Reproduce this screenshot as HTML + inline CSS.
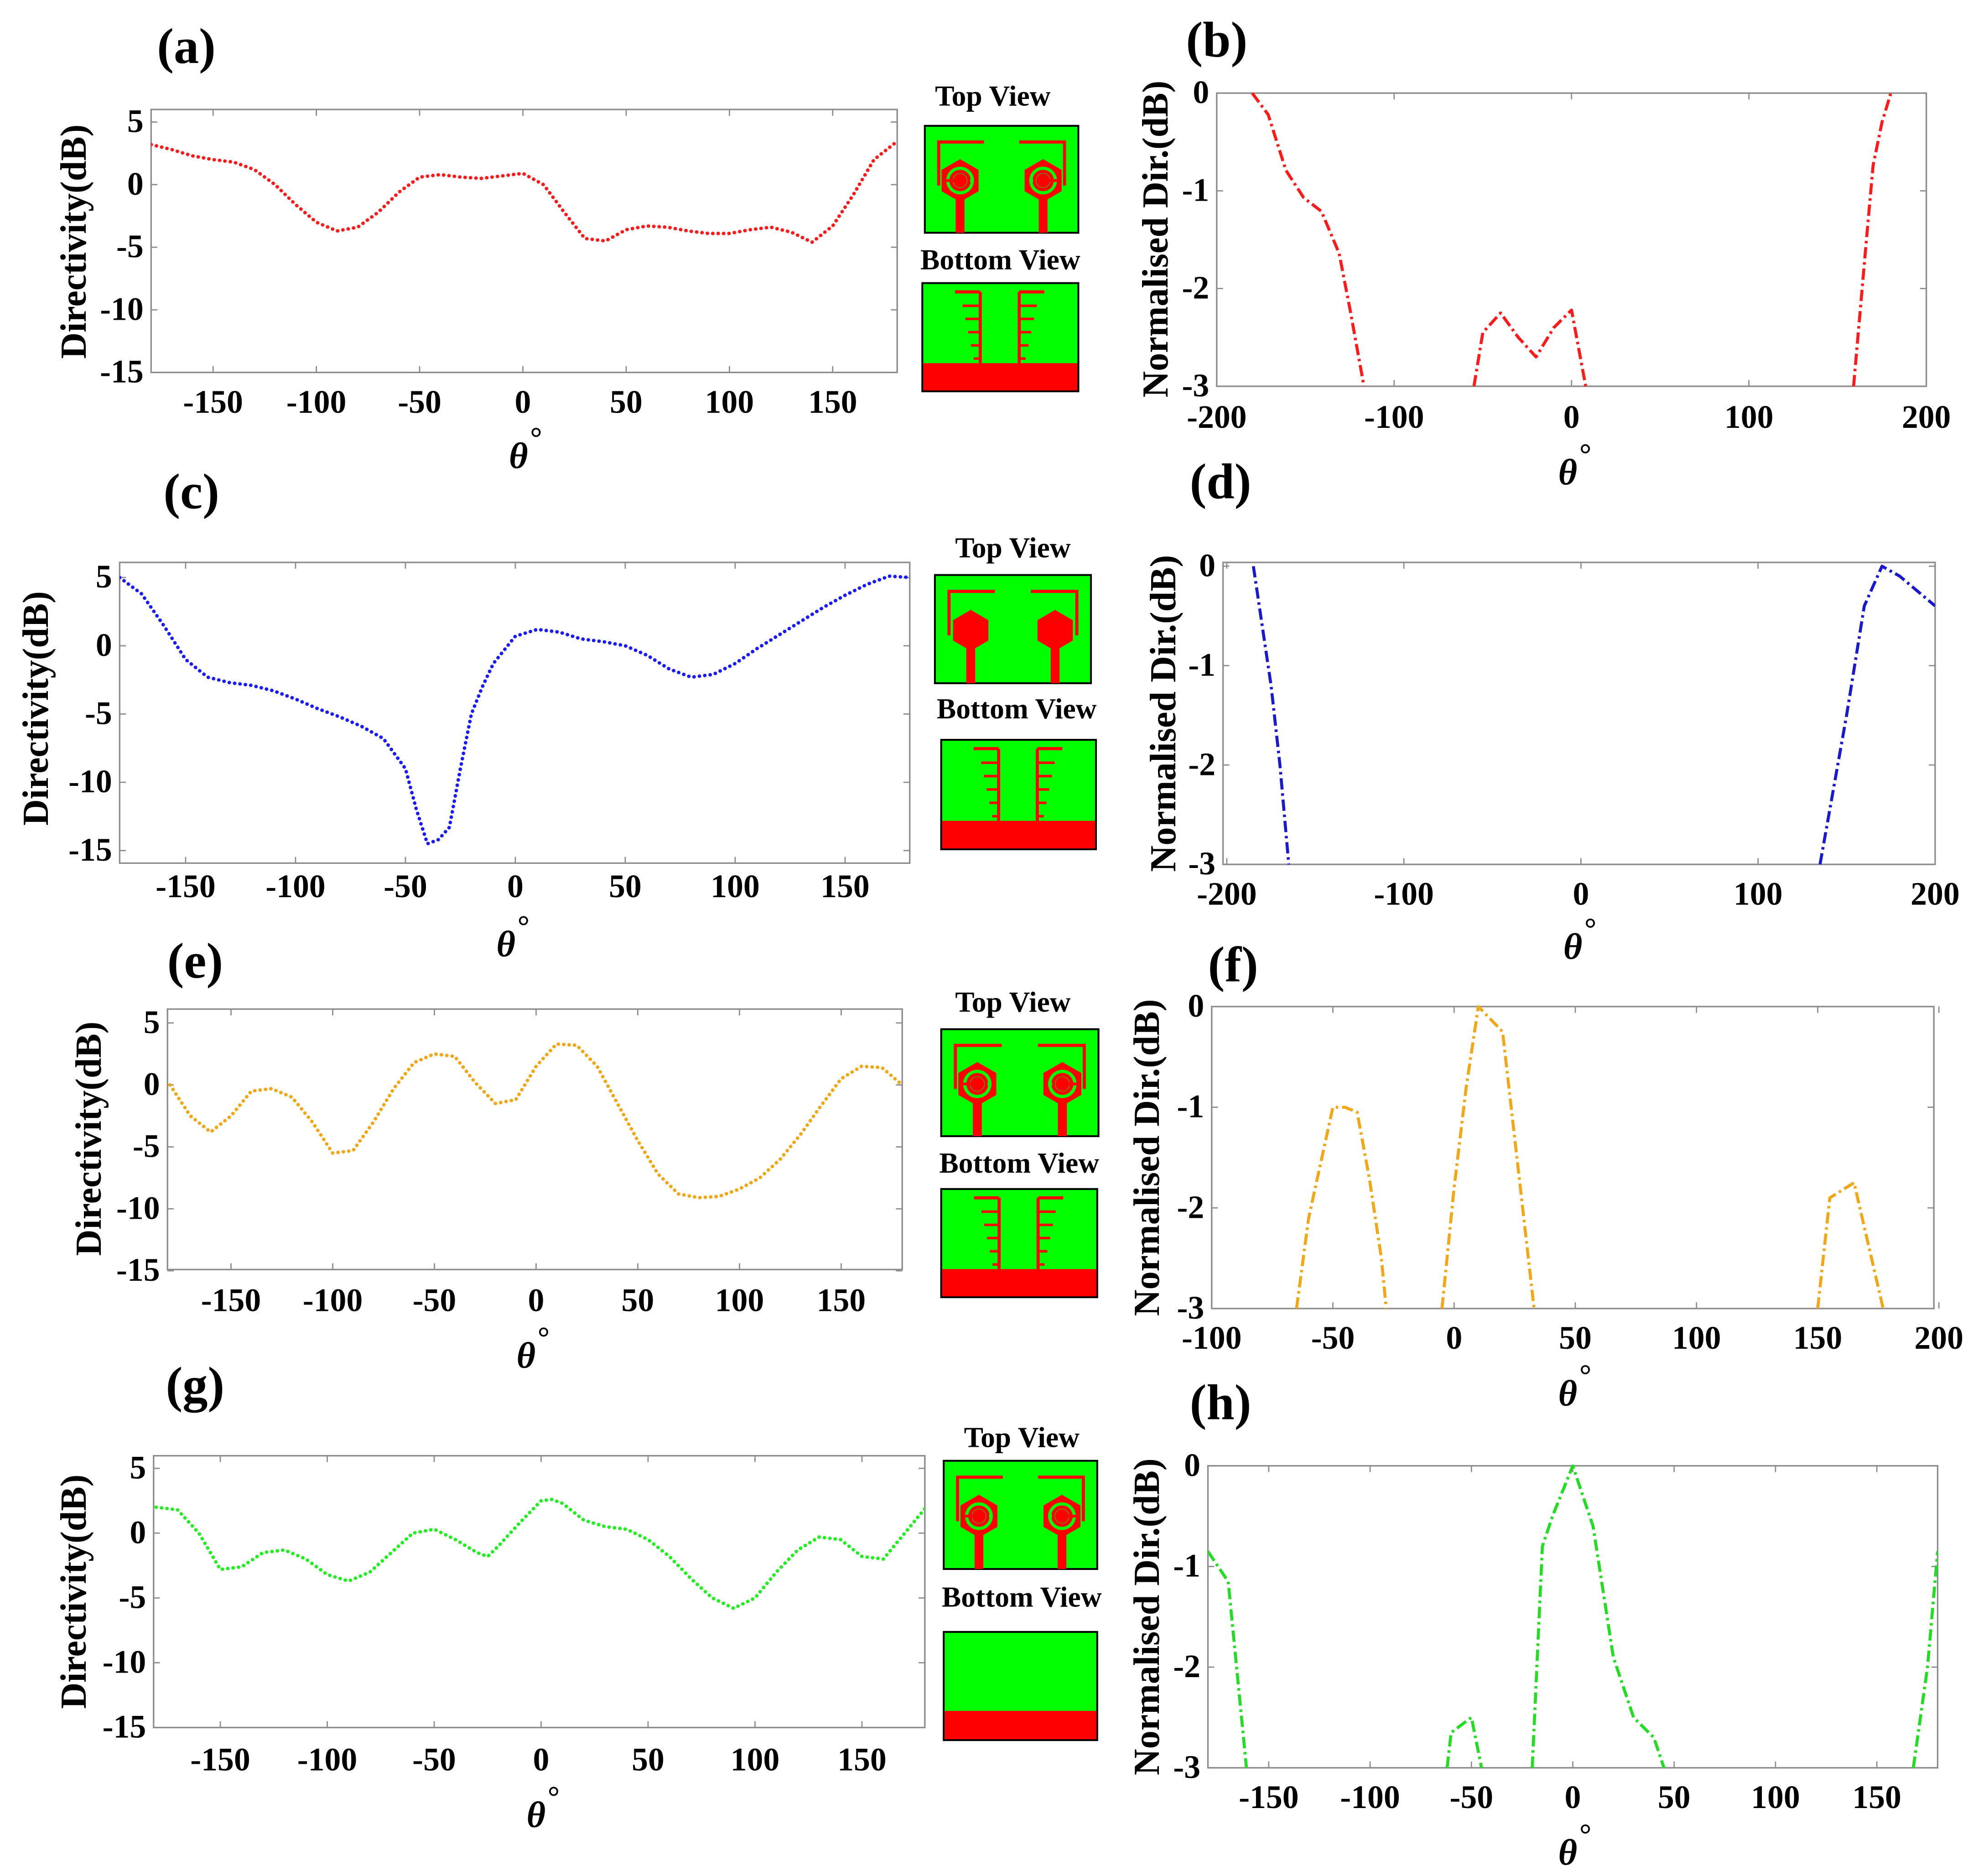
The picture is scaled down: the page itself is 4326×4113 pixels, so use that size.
<!DOCTYPE html>
<html><head><meta charset="utf-8">
<style>
html,body{margin:0;padding:0;background:#fff;}
svg{display:block;}
text{font-family:"Liberation Serif","Times New Roman",serif;font-weight:bold;fill:#000;}
</style></head>
<body>
<svg id="fig" xmlns="http://www.w3.org/2000/svg" width="4326" height="4113" viewBox="0 0 1568 1491" font-family="Liberation Serif, serif">
<defs id="defs"></defs>
</svg>
<script>
// ---- data ----
const thA = [-180,-170,-160,-150,-140,-130,-120,-110,-100,-90,-80,-70,-60,-50,-40,-30,-20,-10,0,10,20,30,40,50,60,70,80,90,100,110,120,130,140,150,160,170,180];
const dirA = [3.2,2.8,2.3,2,1.8,1.2,0,-1.6,-3,-3.7,-3.4,-2.2,-0.6,0.6,0.8,0.6,0.5,0.7,0.9,0,-2.2,-4.3,-4.5,-3.6,-3.3,-3.4,-3.7,-3.9,-3.9,-3.6,-3.4,-3.8,-4.6,-3.3,-0.8,2,3.3];
const thB = [-180,-171,-161,-151,-141,-131,-125,-117,null,-55,-50,-40,-30,-20,-10,0,8,null,159,166,170,175,180];
const normB = [0,-0.22,-0.79,-1.07,-1.21,-1.64,-2.2,-3,null,-3,-2.45,-2.25,-2.5,-2.7,-2.4,-2.22,-3,null,-3,-1.55,-0.74,-0.3,0];
const thC = [-180,-170,-160,-150,-140,-130,-120,-110,-100,-90,-80,-70,-60,-50,-45,-40,-35,-30,-25,-20,-15,-10,0,10,20,30,40,50,60,70,80,90,100,110,120,130,140,150,160,170,180];
const dirC = [5,3.8,1.5,-1,-2.3,-2.7,-2.9,-3.3,-3.9,-4.6,-5.2,-5.9,-6.8,-9,-12,-14.5,-14.2,-13.3,-9,-5,-3,-1.3,0.7,1.2,1,0.5,0.3,0,-0.7,-1.7,-2.3,-2.1,-1.3,-0.2,0.8,1.8,2.8,3.7,4.5,5.1,5];
const thD = [-185,-180,-175,-170,-165,null,135,140,150,160,170,180,190,200];
const normD = [0,-0.6,-1.2,-2,-3,null,-3,-2.5,-1.5,-0.4,0,-0.1,-0.25,-0.4];
const thE = [-180,-170,-160,-150,-140,-130,-120,-110,-100,-90,-80,-70,-60,-50,-40,-30,-20,-10,0,10,20,30,40,50,60,70,80,90,100,110,120,130,140,150,160,170,180];
const dirE = [0,-2.5,-3.8,-2.5,-0.5,-0.3,-1,-3,-5.5,-5.3,-3,-0.3,1.8,2.5,2.3,0.2,-1.5,-1.2,1.5,3.3,3.2,1.5,-1.5,-4.5,-7.2,-8.8,-9.1,-9,-8.4,-7.5,-6,-4,-1.7,0.5,1.5,1.4,0];
const thF = [-65,-60,-50,-45,-40,-35,-30,-28,null,-5,0,5,10,20,33,null,150,155,165,177];
const normF = [-3,-2.1,-1,-1,-1.05,-1.7,-2.5,-3,null,-3,-1.8,-0.8,0,-0.25,-3,null,-3,-1.9,-1.75,-3];
const thG = [-180,-170,-160,-150,-140,-130,-120,-110,-100,-90,-80,-70,-60,-50,-40,-30,-25,-20,-10,0,5,10,20,30,40,50,60,70,80,90,100,110,120,130,140,150,160,170,180];
const dirG = [2,1.8,0,-2.8,-2.6,-1.5,-1.3,-2,-3.2,-3.7,-3,-1.5,0,0.3,-0.5,-1.5,-1.8,-1,0.8,2.5,2.6,2.3,1,0.5,0.3,-0.5,-1.8,-3.5,-5,-5.8,-5,-3,-1.3,-0.3,-0.5,-1.8,-2,0,2];
const thH = [-180,-170,-161,null,-62,-60,-50,-45,null,-20,-15,-10,0,10,20,30,40,45,null,168,175,180];
const normH = [-0.85,-1.15,-3,null,-3,-2.65,-2.5,-3,null,-3,-0.8,-0.5,0,-0.6,-1.9,-2.5,-2.7,-3,null,-3,-2,-0.85];
const xTicks360 = [-150,-100,-50,0,50,100,150];
const yTicksDir = [5,0,-5,-10,-15];
const yTicksNorm = [0,-1,-2,-3];
const xTicksB = [-200,-100,0,100,200];
const xTicksF = [-100,-50,0,50,100,150,200];
const xTicksH = [-150,-100,-50,0,50,100,150];

const NS = "http://www.w3.org/2000/svg";
const fig = document.getElementById('fig');
const defs = document.getElementById('defs');
function mk(tag, attrs, parent){const e=document.createElementNS(NS,tag);for(const k in attrs)e.setAttribute(k,attrs[k]);(parent||fig).appendChild(e);return e;}
function txt(s,x,y,size,anchor,parent,extra){const t=mk('text',Object.assign({x:x,y:y,'font-size':size,'text-anchor':anchor||'middle','font-family':'Liberation Serif, Times New Roman, serif','font-weight':'bold'},extra||{}),parent);t.textContent=s;return t;}

let clipId=0;
function panel(o){
  const g=mk('g',{});
  
  
  const sx=v=>o.px0+(v-o.xmin)/(o.xmax-o.xmin)*(o.px1-o.px0);
  const sy=v=>o.py0+(o.ymax-v)/(o.ymax-o.ymin)*(o.py1-o.py0);
  const bx=o.bx0, bxr=o.bx1, by=o.by0, byb=o.by1;
  const box=mk('rect',{x:bx,y:by,width:bxr-bx,height:byb-by,fill:'#fff',stroke:'#8c8c8c','stroke-width':1.2},g);
  
  
  o.xt.forEach(v=>{const x=sx(v);
    mk('line',{x1:x,y1:byb,x2:x,y2:byb-5,stroke:'#8c8c8c','stroke-width':1},g);
    mk('line',{x1:x,y1:by,x2:x,y2:by+5,stroke:'#8c8c8c','stroke-width':1},g);
    const t=txt(String(v),x,o.xly,26,'middle',g);
    
    
  });
  o.yt.forEach(v=>{const y=sy(v);
    mk('line',{x1:bx,y1:y,x2:bx+5,y2:y,stroke:'#8c8c8c','stroke-width':1},g);
    mk('line',{x1:bxr,y1:y,x2:bxr-5,y2:y,stroke:'#8c8c8c','stroke-width':1},g);
    const t=txt(String(v),o.ylx,y+8,26,'end',g);
    
    
  });
  clipId++;
  const cp=mk('clipPath',{id:'c'+clipId},defs);
  mk('rect',{x:bx,y:by-1,width:bxr-bx,height:byb-by+2},cp);
  let d='',pen=false;
  for(let i=0;i<o.xs.length;i++){
    if(o.xs[i]===null){pen=false;continue;}
    d+=(pen?'L':'M')+sx(o.xs[i]).toFixed(2)+' '+sy(o.ys[i]).toFixed(2)+' ';pen=true;
  }
  const p=mk('path',{d:d,fill:'none',stroke:o.color,'stroke-width':o.dot?2.8:2.4,'stroke-dasharray':o.dot?'0.1 4.2':'9 3 2 3','stroke-linecap':o.dot?'round':'butt','stroke-linejoin':'round','clip-path':'url(#c'+clipId+')'},g);
  
  
  const yt=txt(o.ytitle,0,0,29,'middle',g,{transform:'translate('+o.ytx+','+o.yty+') rotate(-90)'});
  
  
  const th=txt('θ',o.thx,o.thy,29,'middle',g,{'font-style':'italic','font-weight':'normal'});
  
  
  const deg=txt('°',o.thx+14,o.thy-16,24,'middle',g,{'font-weight':'normal'});
  
  
  const pl=txt(o.label,o.lx,o.ly,40,'middle',g);
  
  
}

panel({name:'panel-a',xmin:-180,xmax:180,px0:120,px1:711,ymin:-15,ymax:5,py0:97,py1:296,bx0:120,bx1:713,by0:87,by1:296,xt:xTicks360,yt:yTicksDir,xly:328,ylx:114,xs:thA,ys:dirA,color:'#ff1a1a',dot:true,ytitle:'Directivity(dB)',ytx:68,yty:192,thx:412,thy:372,label:'(a)',lx:148,ly:50});
panel({name:'panel-c',xmin:-180,xmax:180,px0:95,px1:724,ymin:-15,ymax:5,py0:459,py1:676,bx0:95,bx1:723,by0:447,by1:686,xt:xTicks360,yt:yTicksDir,xly:713,ylx:89,xs:thC,ys:dirC,color:'#1a1aff',dot:true,ytitle:'Directivity(dB)',ytx:38,yty:563,thx:402,thy:760,label:'(c)',lx:152,ly:404});
panel({name:'panel-e',xmin:-180,xmax:180,px0:135,px1:717,ymin:-15,ymax:5,py0:813,py1:1010,bx0:133,bx1:717,by0:802,by1:1009,xt:xTicks360,yt:yTicksDir,xly:1042,ylx:127,xs:thE,ys:dirE,color:'#f0a818',dot:true,ytitle:'Directivity(dB)',ytx:80,yty:905,thx:418,thy:1087,label:'(e)',lx:155,ly:777});
panel({name:'panel-g',xmin:-180,xmax:180,px0:124,px1:736,ymin:-15,ymax:5,py0:1167,py1:1373,bx0:122,bx1:735,by0:1157,by1:1373,xt:xTicks360,yt:yTicksDir,xly:1407,ylx:116,xs:thG,ys:dirG,color:'#22ee22',dot:true,ytitle:'Directivity(dB)',ytx:68,yty:1265,thx:426,thy:1452,label:'(g)',lx:155,ly:1114});
panel({name:'panel-b',xmin:-200,xmax:200,px0:967,px1:1531,ymin:-3,ymax:0,py0:74,py1:307,bx0:967,bx1:1531,by0:74,by1:307,xt:xTicksB,yt:yTicksNorm,xly:340,ylx:961,xs:thB,ys:normB,color:'#ff1a1a',dot:false,ytitle:'Normalised Dir.(dB)',ytx:928,yty:190,thx:1246,thy:385,label:'(b)',lx:967,ly:45});
panel({name:'panel-d',xmin:-200,xmax:200,px0:975,px1:1538,ymin:-3,ymax:0,py0:450,py1:687,bx0:972,bx1:1538,by0:447,by1:687,xt:xTicksB,yt:yTicksNorm,xly:719,ylx:966,xs:thD,ys:normD,color:'#1a1acc',dot:false,ytitle:'Normalised Dir.(dB)',ytx:934,yty:567,thx:1250,thy:762,label:'(d)',lx:970,ly:396});
panel({name:'panel-f',xmin:-100,xmax:200,px0:963,px1:1541,ymin:-3,ymax:0,py0:800,py1:1040,bx0:963,bx1:1537,by0:800,by1:1040,xt:xTicksF,yt:yTicksNorm,xly:1072,ylx:957,xs:thF,ys:normF,color:'#f0a818',dot:false,ytitle:'Normalised Dir.(dB)',ytx:921,yty:920,thx:1246,thy:1117,label:'(f)',lx:980,ly:780});
panel({name:'panel-h',xmin:-180,xmax:180,px0:960,px1:1540,ymin:-3,ymax:0,py0:1165,py1:1405,bx0:960,bx1:1540,by0:1165,by1:1405,xt:xTicksH,yt:yTicksNorm,xly:1437,ylx:954,xs:thH,ys:normH,color:'#22dd22',dot:false,ytitle:'Normalised Dir.(dB)',ytx:921,yty:1285,thx:1246,thy:1482,label:'(h)',lx:970,ly:1128});

// ---- insets ----
const RED='#ff0000', GRN='#00ff00';
function hexPts(cx,cy,r){let s='';for(let i=0;i<6;i++){const a=Math.PI/180*(60*i-90);s+=(cx+r*Math.cos(a)).toFixed(1)+','+(cy+r*Math.sin(a)).toFixed(1)+' ';}return s;}
function topView(x,y,w,h,solid,tx,ty){
  const g=mk('g',{});
  
  
  const t=txt('Top View',tx,ty,23,'middle',g);
  
  
  mk('rect',{x:x,y:y,width:w,height:h,fill:GRN,stroke:'#000','stroke-width':1.5},g);
  const sc=w/122;
  [[28,1],[94,-1]].forEach(([cxr,dir])=>{
    const cx=x+cxr*sc, cy=y+44*h/86;
    const bxo=dir>0?x+11*sc:x+111*sc, bxi=dir>0?x+47*sc:x+75*sc;
    mk('polyline',{points:bxo+','+(y+48*h/86)+' '+bxo+','+(y+13*h/86)+' '+bxi+','+(y+13*h/86),fill:'none',stroke:RED,'stroke-width':2.5},g);
    mk('rect',{x:cx-3.5*sc,y:y+56*h/86,width:7*sc,height:h-56*h/86,fill:RED},g);
    if(solid){mk('polygon',{points:hexPts(cx,cy,16*sc),fill:RED},g);}
    else{
      mk('polygon',{points:hexPts(cx,cy,17*sc),fill:RED},g);
      mk('circle',{cx:cx,cy:cy,r:11*sc,fill:GRN},g);
      mk('circle',{cx:cx,cy:cy,r:8.5*sc,fill:RED},g);
      mk('circle',{cx:cx,cy:cy,r:5.8*sc,fill:GRN},g);
      mk('circle',{cx:cx,cy:cy,r:5.5*sc,fill:RED},g);
      mk('line',{x1:cx,y1:cy,x2:cx-dir*11*sc,y2:cy,stroke:RED,'stroke-width':2.2},g);
      mk('rect',{x:dir>0?cx+8*sc:cx-11*sc,y:cy-1.5,width:3*sc,height:3,fill:GRN},g);
    }
  });
}
function bottomView(x,y,w,h,plain,tx,ty){
  const g=mk('g',{});
  
  
  const t=txt('Bottom View',tx,ty,23,'middle',g);
  
  
  mk('rect',{x:x,y:y,width:w,height:h,fill:GRN,stroke:'#000','stroke-width':1.5},g);
  const sc=w/124;
  const gy=plain?y+h*0.73:y+h*0.74;
  mk('rect',{x:x+0.7,y:gy,width:w-1.4,height:y+h-gy-0.7,fill:RED},g);
  if(!plain){
    const lx=x+46*sc, rx=x+77*sc;
    mk('line',{x1:lx,y1:y+7,x2:lx,y2:gy,stroke:RED,'stroke-width':2.5},g);
    mk('line',{x1:rx,y1:y+7,x2:rx,y2:gy,stroke:RED,'stroke-width':2.5},g);
    mk('line',{x1:x+26*sc,y1:y+7,x2:lx,y2:y+7,stroke:RED,'stroke-width':2.5},g);
    mk('line',{x1:rx,y1:y+7,x2:x+97*sc,y2:y+7,stroke:RED,'stroke-width':2.5},g);
    [0,1,2,3,4].forEach(i=>{const yy=y+(18+i*10.5)*h/86;const len=(14-i*2.2)*sc;
      mk('line',{x1:lx-len,y1:yy,x2:lx,y2:yy,stroke:RED,'stroke-width':2},g);
      mk('line',{x1:rx,y1:yy,x2:rx+len,y2:yy,stroke:RED,'stroke-width':2},g);});
  }
}
topView(735,100,122,85,false,789,84);
bottomView(733,225,124,86,false,795,214);
topView(743,457,124,86,true,805,443);
bottomView(748,588,123,87,false,808,571);
topView(748,818,125,85,false,805,804);
bottomView(748,945,124,86,false,810,932);
topView(750,1161,122,86,false,812,1150);
bottomView(750,1297,122,86,true,812,1277);
</script>
</body></html>
